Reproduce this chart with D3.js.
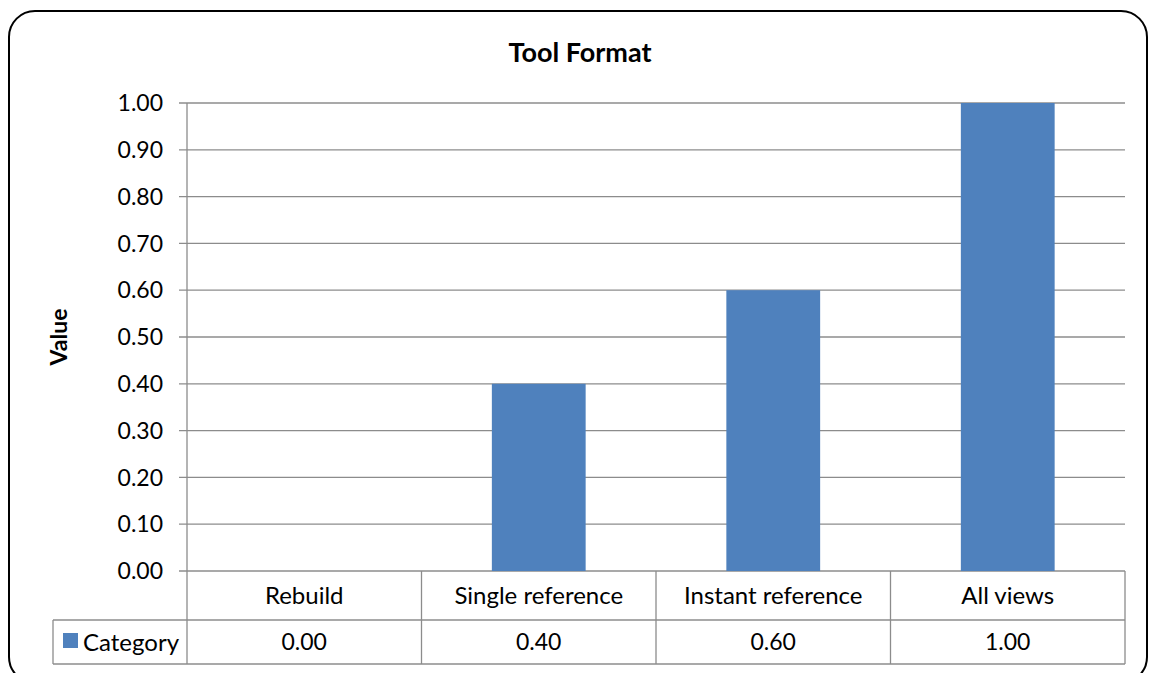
<!DOCTYPE html>
<html>
<head>
<meta charset="UTF-8">
<title>Tool Format</title>
<script src="https://cdn.jsdelivr.net/npm/d3@7"></script>
<style>
body { margin: 0; background: #fff; }
svg text { font-family: Lato, "Open Sans", sans-serif; fill: #000; }
</style>
</head>
<body>
<svg id="chart" width="1149" height="673"></svg>
<script>
var categories = ["Rebuild", "Single reference", "Instant reference", "All views"];
var values = [0.00, 0.40, 0.60, 1.00];
var yTicks = [0, 0.1, 0.2, 0.3, 0.4, 0.5, 0.6, 0.7, 0.8, 0.9, 1.0];
var seriesName = "Category";

var svg = d3.select("#chart");
var fmt = d3.format(".2f");

// outer chart frame
svg.append("rect")
    .attr("x", 9).attr("y", 11)
    .attr("width", 1138).attr("height", 672)
    .attr("rx", 26).attr("ry", 26)
    .attr("fill", "#fff").attr("stroke", "#000").attr("stroke-width", 2);

var plotL = 187, plotR = 1125, plotT = 103, plotB = 571;

var x = d3.scaleBand().domain(categories).range([plotL, plotR]);
var y = d3.scaleLinear().domain([0, 1]).range([plotB, plotT]);

// gridlines
svg.append("g").selectAll("line")
    .data(yTicks)
    .enter().append("line")
      .attr("x1", plotL - 8).attr("x2", plotR)
      .attr("y1", function(d) { return y(d); })
      .attr("y2", function(d) { return y(d); })
      .attr("stroke", "#8c8c8c").attr("stroke-width", 1.3);

// tick labels
svg.append("g").selectAll("text")
    .data(yTicks)
    .enter().append("text")
      .attr("x", 163)
      .attr("y", function(d) { return y(d); })
      .attr("dy", "0.36em")
      .attr("text-anchor", "end")
      .style("font-size", "23px")
      .text(function(d) { return fmt(d); });

// bars
var barW = x.bandwidth() * 0.4;
svg.append("g").selectAll("rect")
    .data(values)
    .enter().append("rect")
      .attr("x", function(d, i) { return x(categories[i]) + (x.bandwidth() - barW) / 2; })
      .attr("y", function(d) { return y(d); })
      .attr("width", barW)
      .attr("height", function(d) { return plotB - y(d); })
      .attr("fill", "#4f81bd");

// data table
var row1 = 620, row2 = 664, legendLeft = 53;
var tbl = svg.append("g").attr("stroke", "#8c8c8c").attr("stroke-width", 1.3);
tbl.append("line").attr("x1", plotL).attr("x2", plotL).attr("y1", plotT).attr("y2", row2);
tbl.append("line").attr("x1", legendLeft).attr("x2", plotR).attr("y1", row1).attr("y2", row1);
tbl.append("line").attr("x1", legendLeft).attr("x2", plotR).attr("y1", row2).attr("y2", row2);
tbl.append("line").attr("x1", legendLeft).attr("x2", legendLeft).attr("y1", row1).attr("y2", row2);
tbl.selectAll(".sep")
    .data(categories)
    .enter().append("line")
      .attr("x1", function(d) { return x(d) + x.bandwidth(); })
      .attr("x2", function(d) { return x(d) + x.bandwidth(); })
      .attr("y1", plotB).attr("y2", row2);

svg.append("g").selectAll("text")
    .data(categories)
    .enter().append("text")
      .attr("x", function(d) { return x(d) + x.bandwidth() / 2; })
      .attr("y", (plotB + row1) / 2)
      .attr("dy", "0.36em")
      .attr("text-anchor", "middle")
      .style("font-size", "24px")
      .text(function(d) { return d; });

svg.append("g").selectAll("text")
    .data(values)
    .enter().append("text")
      .attr("x", function(d, i) { return x(categories[i]) + x.bandwidth() / 2; })
      .attr("y", (row1 + row2) / 2)
      .attr("dy", "0.36em")
      .attr("text-anchor", "middle")
      .style("font-size", "23px")
      .text(function(d) { return fmt(d); });

svg.append("rect")
    .attr("x", 63).attr("y", 633).attr("width", 15).attr("height", 15)
    .attr("fill", "#4f81bd");
svg.append("text")
    .attr("x", 83).attr("y", (row1 + row2) / 2)
    .attr("dy", "0.36em")
    .style("font-size", "24px")
    .text(seriesName);

// titles
svg.append("text")
    .attr("x", 580).attr("y", 52)
    .attr("dy", "0.36em")
    .attr("text-anchor", "middle")
    .style("font-size", "27px").style("font-weight", "bold")
    .text("Tool Format");

svg.append("text")
    .attr("transform", "translate(59," + ((plotT + plotB) / 2) + ") rotate(-90)")
    .attr("dy", "0.36em")
    .attr("text-anchor", "middle")
    .style("font-size", "23px").style("font-weight", "bold")
    .text("Value");
</script>
</body>
</html>
